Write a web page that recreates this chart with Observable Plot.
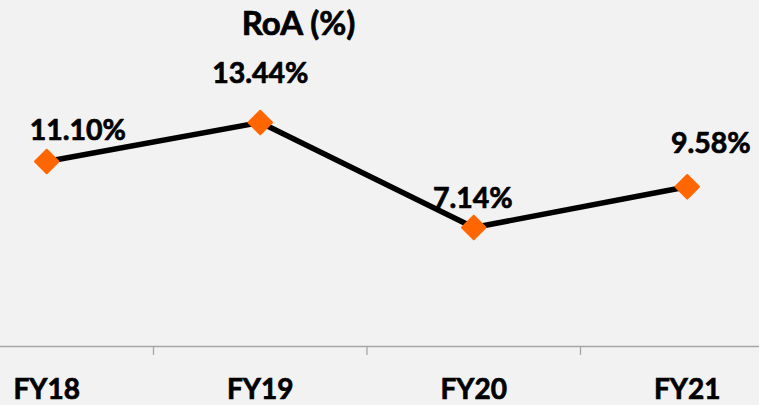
<!DOCTYPE html>
<html>
<head>
<meta charset="utf-8">
<script src="https://cdn.jsdelivr.net/npm/d3@7"></script>
<script src="https://cdn.jsdelivr.net/npm/@observablehq/plot@0.6"></script>
<style>
  html, body { margin: 0; padding: 0; background: #f2f2f2; }
  #chart svg { display: block; }
</style>
</head>
<body>
<div id="chart"></div>
<script>
const title = "RoA (%)";
const categories = ["FY18", "FY19", "FY20", "FY21"];
const values = [11.10, 13.44, 7.14, 9.58];
const valueLabels = ["11.10%", "13.44%", "7.14%", "9.58%"];

const data = categories.map((c, i) => ({i, cat: c, value: values[i], label: valueLabels[i]}));
const font = "Lato, 'Open Sans', sans-serif";

// per-label placement (style only)
const labelOffsets = [[31, -21], [0, -39], [-1, -19], [23.5, -34]];

const chart = Plot.plot({
  width: 759,
  height: 405,
  marginLeft: 0,
  marginRight: 0,
  marginTop: 0,
  marginBottom: 59,
  style: {background: "#f2f2f2", fontFamily: font, overflow: "visible"},
  x: {domain: [-0.5, categories.length - 0.5], range: [-60.5, 793.5], axis: null},
  y: {domain: [0, 16], range: [346, 79.3], axis: null},
  marks: [
    Plot.ruleY([0], {stroke: "#a6a6a6", strokeWidth: 1.3}),
    Plot.axisX({ticks: d3.range(categories.length - 1).map(i => i + 0.5), tickSize: 9, tickFormat: () => "", label: null, stroke: "#a6a6a6", strokeWidth: 1.3, strokeOpacity: 1}),
    Plot.axisX({ticks: d3.range(categories.length), tickSize: 0, tickPadding: 33, tickFormat: i => categories[i], label: null, fontSize: 28, fontWeight: "bold", fill: "#000", fontFamily: font}),
    Plot.line(data, {x: "i", y: "value", stroke: "#000", strokeWidth: 5.5}),
    Plot.dot(data, {x: "i", y: "value", symbol: "diamond2", r: 10.6, fill: "#ff6600", stroke: "#ff6600", strokeWidth: 2, strokeLinejoin: "round"}),
    ...data.map((d, k) => Plot.text([d], {x: "i", y: "value", text: "label", dx: labelOffsets[k][0], dy: labelOffsets[k][1], lineAnchor: "bottom", fontSize: 28.5, fontWeight: "bold", fill: "#000", stroke: "#000", strokeWidth: 0.7, fontFamily: font})),
    Plot.text([title], {frameAnchor: "top-left", dx: 298, dy: 34, lineAnchor: "bottom", textAnchor: "middle", fontSize: 33, fontWeight: "bold", fill: "#000", stroke: "#000", strokeWidth: 0.7, fontFamily: font})
  ]
});
// thicken category labels slightly
chart.querySelectorAll("text").forEach(t => { if (categories.includes(t.textContent)) { t.setAttribute("stroke", "#000"); t.setAttribute("stroke-width", "0.7"); t.setAttribute("paint-order", "stroke"); } });
document.getElementById("chart").appendChild(chart);
</script>
</body>
</html>
